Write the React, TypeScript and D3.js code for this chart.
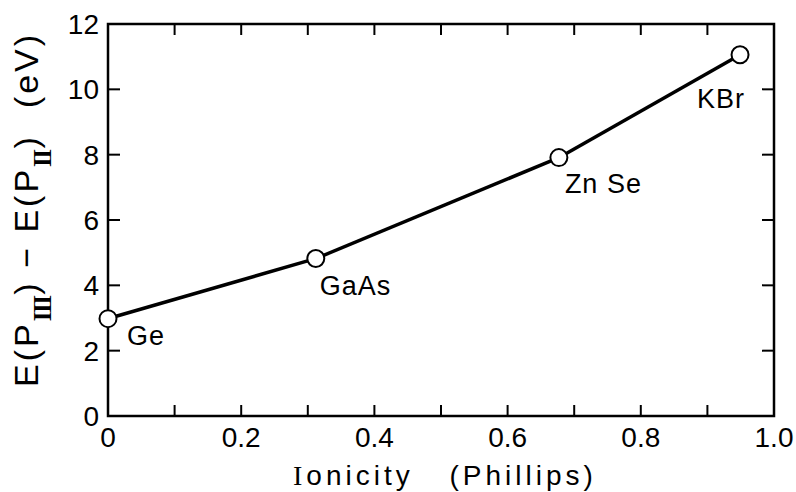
import React from "react";
import * as d3 from "d3";

const materials = ["Ge", "GaAs", "Zn Se", "KBr"];
const ionicity = [0, 0.312, 0.677, 0.949];
const energyDiff = [2.98, 4.82, 7.91, 11.06];
const xTickLabels = ["0", "0.2", "0.4", "0.6", "0.8", "1.0"];
const yTickLabels = ["0", "2", "4", "6", "8", "10", "12"];

const W = 796, H = 492;
const left = 108, right = 774, top = 24, bottom = 416;

export default function App() {
  const x = d3.scaleLinear().domain([0, 1]).range([left, right]);
  const y = d3.scaleLinear().domain([0, 12]).range([bottom, top]);
  const pts = ionicity.map((v, i) => ({ x: x(v), y: y(energyDiff[i]), name: materials[i] }));
  const r = 8.5;
  const segs = pts.slice(1).map((p, i) => {
    const a = pts[i];
    const dx = p.x - a.x, dy = p.y - a.y;
    const len = Math.hypot(dx, dy);
    return { x1: a.x + (dx / len) * r, y1: a.y + (dy / len) * r, x2: p.x - (dx / len) * r, y2: p.y - (dy / len) * r };
  });
  const xMinor = d3.range(0, 11).map((i) => i / 10);
  const yMajor = d3.range(0, 7).map((i) => i * 2);
  const labelOffsets: Record<string, [number, number]> = {
    Ge: [19, 26],
    GaAs: [4, 36],
    "Zn Se": [6, 35],
    KBr: [-43, 53],
  };
  const font = "Liberation Sans, Arial, sans-serif";
  const serif = "Liberation Serif, serif";
  return (
    <svg width={W} height={H} style={{ position: "absolute", left: 0, top: 0 }}>
      <rect width={W} height={H} fill="#fff" />
      <rect x={left} y={top} width={right - left} height={bottom - top} fill="none" stroke="#000" strokeWidth={2.5} />
      {xMinor.map((t, i) => (
        <g key={"xt" + i}>
          <line x1={x(t)} x2={x(t)} y1={bottom} y2={bottom - 11} stroke="#000" strokeWidth={2} />
          <line x1={x(t)} x2={x(t)} y1={top} y2={top + 11} stroke="#000" strokeWidth={2} />
        </g>
      ))}
      {yMajor.map((t, i) => (
        <g key={"yt" + i}>
          <line x1={left} x2={left + 12} y1={y(t)} y2={y(t)} stroke="#000" strokeWidth={2} />
          <line x1={right} x2={right - 12} y1={y(t)} y2={y(t)} stroke="#000" strokeWidth={2} />
        </g>
      ))}
      {xTickLabels.map((l, i) => (
        <text key={"xl" + i} x={x(i * 0.2)} y={bottom + 31} textAnchor="middle" fontFamily={font} fontSize={28}>
          {l}
        </text>
      ))}
      {yTickLabels.map((l, i) => (
        <text key={"yl" + i} x={99} y={y(i * 2) + 10} textAnchor="end" fontFamily={font} fontSize={28}>
          {l}
        </text>
      ))}
      <text x={293} y={485} textAnchor="start" fontFamily={font} fontSize={28} letterSpacing={4} wordSpacing={24}>
        <tspan fontFamily={serif}>I</tspan>onicity (Phillips)
      </text>
      <text transform="translate(38,387) rotate(-90)" textAnchor="start" fontFamily={font} fontSize={34} letterSpacing={3}>
        <tspan>E(P</tspan>
        <tspan fontFamily={serif} fontSize={25} fontWeight="bold" letterSpacing={-1.5} dy={13}>III</tspan>
        <tspan dy={-13} dx={2}>) − E(P</tspan>
        <tspan fontFamily={serif} fontSize={25} fontWeight="bold" letterSpacing={-1.5} dy={13}>II</tspan>
        <tspan dy={-13} dx={2}>)</tspan>
      </text>
      <text transform="translate(38,70) rotate(-90)" textAnchor="middle" fontFamily={font} fontSize={34} letterSpacing={3}>
        (eV)
      </text>
      {segs.map((s, i) => (
        <line key={"s" + i} x1={s.x1} y1={s.y1} x2={s.x2} y2={s.y2} stroke="#000" strokeWidth={3.5} />
      ))}
      {pts.map((p, i) => (
        <g key={"p" + i}>
          <circle cx={p.x} cy={p.y} r={r} fill="#fff" stroke="#000" strokeWidth={2} />
          <text x={p.x + labelOffsets[p.name][0]} y={p.y + labelOffsets[p.name][1]} textAnchor="start" fontFamily={font} fontSize={27} letterSpacing={1}>
            {p.name}
          </text>
        </g>
      ))}
    </svg>
  );
}
